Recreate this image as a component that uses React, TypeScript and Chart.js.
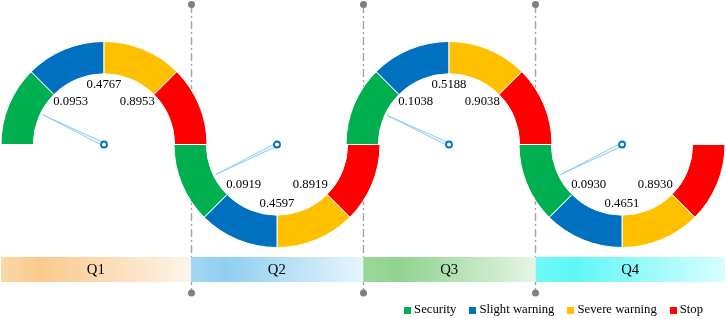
import React, { useEffect, useRef } from 'react';
import { Chart, registerables } from 'chart.js';

Chart.register(...registerables);

// ---------------- data ----------------
const quarters = ['Q1', 'Q2', 'Q3', 'Q4'];
const quarterEdges = [-0.1, 1, 2, 3, 4.1];
const gaugeCenters = [0.5, 1.5, 2.5, 3.5];
const gaugeOrientation = ['top', 'bottom', 'top', 'bottom'];
const statusLevels = ['Security', 'Slight warning', 'Severe warning', 'Stop'];
const levelShares = [1, 1, 1, 1];
const thresholdsQ1 = [0.0953, 0.4767, 0.8953];
const thresholdsQ2 = [0.0919, 0.4597, 0.8919];
const thresholdsQ3 = [0.1038, 0.5188, 0.9038];
const thresholdsQ4 = [0.093, 0.4651, 0.893];
const thresholds = [thresholdsQ1, thresholdsQ2, thresholdsQ3, thresholdsQ4];
const needleValues = [0.144, 0.145, 0.14, 0.145];

// ---------------- styles ----------------
const levelColors = ['#00b050', '#0070c0', '#ffc000', '#ff0000'];
const bandColors = [
  ['#fbd9ab', '#f9c98a', '#fdf4e9'],
  ['#a3d8f4', '#90cff1', '#e6f5fc'],
  ['#9ad89a', '#8fd38f', '#e6f5e6'],
  ['#72f8f8', '#5ef7f7', '#d9fefe'],
];
const SERIF = '"Liberation Serif", "Times New Roman", serif';
const W = 726;
const H = 319;
const R = 103;
const GW = 2 * R + 4;
const GH = R + 13;
const GAUGE_CY = 144.5;

const dividerPlugin = {
  id: 'dividers',
  beforeDatasetsDraw(chart: any) {
    const { ctx } = chart;
    const xs = chart.scales.x;
    ctx.save();
    for (let k = 1; k < quarterEdges.length - 1; k++) {
      const x = Math.round(xs.getPixelForValue(quarterEdges[k])) + 0.5;
      ctx.strokeStyle = '#a6a6a6';
      ctx.lineWidth = 1.4;
      ctx.setLineDash([8, 3, 2, 3]);
      ctx.beginPath();
      ctx.moveTo(x, 5);
      ctx.lineTo(x, 293);
      ctx.stroke();
      ctx.setLineDash([]);
      ctx.fillStyle = '#7f7f7f';
      for (const y of [4.5, 293]) {
        ctx.beginPath();
        ctx.arc(x, y, 3.5, 0, Math.PI * 2);
        ctx.fill();
      }
    }
    ctx.restore();
  },
};

const bandLabelPlugin = {
  id: 'bandLabels',
  afterDatasetsDraw(chart: any) {
    const { ctx } = chart;
    ctx.save();
    ctx.font = `14.7px ${SERIF}`;
    ctx.fillStyle = '#000';
    ctx.textAlign = 'center';
    ctx.textBaseline = 'middle';
    chart.data.datasets.forEach((ds: any, i: number) => {
      const el = chart.getDatasetMeta(i).data[0];
      if (!el) return;
      ctx.fillText(ds.label, (el.x + el.base) / 2, el.y + 0.5);
    });
    ctx.restore();
  },
};

const legendPlugin = {
  id: 'statusLegend',
  afterDraw(chart: any) {
    const { ctx } = chart;
    ctx.save();
    ctx.font = `12.7px ${SERIF}`;
    const box = 7;
    const gap = 3;
    const spacing = 13;
    const widths = statusLevels.map((t) => box + gap + ctx.measureText(t).width);
    const total = widths.reduce((a, b) => a + b, 0) + spacing * (statusLevels.length - 1);
    let x = 703 - total;
    const y = 310;
    statusLevels.forEach((t, k) => {
      ctx.fillStyle = levelColors[k];
      ctx.fillRect(Math.round(x), y - 3, box, box);
      ctx.fillStyle = '#000';
      ctx.textAlign = 'left';
      ctx.textBaseline = 'middle';
      ctx.fillText(t, x + box + gap, y);
      x += widths[k] + spacing;
    });
    ctx.restore();
  },
};

function gaugeOverlay(i: number) {
  return {
    id: 'gaugeOverlay' + i,
    afterDatasetsDraw(chart: any) {
      const arc = chart.getDatasetMeta(0).data[0];
      if (!arc) return;
      const { ctx } = chart;
      const cx = arc.x;
      const cy = arc.y;
      const inner = arc.innerRadius;
      const top = gaugeOrientation[i] === 'top';
      const s = top ? -1 : 1;
      ctx.save();
      // threshold labels
      ctx.font = `12.7px ${SERIF}`;
      ctx.fillStyle = '#000';
      ctx.textAlign = 'center';
      ctx.textBaseline = 'middle';
      const sideR = inner * 0.765;
      const sideA = (52 * Math.PI) / 180;
      const midR = inner * (top ? 0.85 : 0.835);
      const vals = thresholds[i];
      ctx.fillText(vals[0].toFixed(4), cx - sideR * Math.cos(sideA), cy + s * sideR * Math.sin(sideA) * (top ? 1 : 0.95));
      ctx.fillText(vals[1].toFixed(4), cx, cy + s * midR);
      ctx.fillText(vals[2].toFixed(4), cx + sideR * Math.cos(sideA), cy + s * sideR * Math.sin(sideA) * (top ? 1 : 0.95));
      // needle
      const f = needleValues[i];
      const ang = top ? Math.PI + f * Math.PI : Math.PI - f * Math.PI;
      const len = inner * 0.97;
      const tx = cx + len * Math.cos(ang);
      const ty = cy + len * Math.sin(ang);
      const px = -Math.sin(ang) * 1.6;
      const py = Math.cos(ang) * 1.6;
      ctx.beginPath();
      ctx.moveTo(cx + px, cy + py);
      ctx.lineTo(tx, ty);
      ctx.lineTo(cx - px, cy - py);
      ctx.closePath();
      ctx.fillStyle = '#eaf6fd';
      ctx.fill();
      ctx.strokeStyle = '#86c9ee';
      ctx.lineWidth = 0.9;
      ctx.stroke();
      // pivot
      ctx.beginPath();
      ctx.arc(cx, cy, 3, 0, Math.PI * 2);
      ctx.fillStyle = '#fff';
      ctx.fill();
      ctx.strokeStyle = '#0070c0';
      ctx.lineWidth = 1.8;
      ctx.stroke();
      ctx.restore();
    },
  };
}

function makeGauge(canvas: HTMLCanvasElement, i: number) {
  const top = gaugeOrientation[i] === 'top';
  const order = top ? [0, 1, 2, 3] : [3, 2, 1, 0];
  return new Chart(canvas, {
    type: 'doughnut',
    data: {
      labels: order.map((k) => statusLevels[k]),
      datasets: [
        {
          data: order.map((k) => levelShares[k]),
          backgroundColor: order.map((k) => levelColors[k]),
          borderColor: '#ffffff',
          borderWidth: 1,
        },
      ],
    },
    options: {
      responsive: false,
      animation: false,
      rotation: top ? -90 : 90,
      circumference: 180,
      cutout: '68.6%',
      radius: R,
      layout: { padding: 0 },
      events: [],
      plugins: { legend: { display: false }, tooltip: { enabled: false } },
    } as any,
    plugins: [gaugeOverlay(i)],
  });
}

export default function App() {
  const mainRef = useRef<HTMLCanvasElement>(null);
  const g0 = useRef<HTMLCanvasElement>(null);
  const g1 = useRef<HTMLCanvasElement>(null);
  const g2 = useRef<HTMLCanvasElement>(null);
  const g3 = useRef<HTMLCanvasElement>(null);
  const gaugeRefs = [g0, g1, g2, g3];

  useEffect(() => {
    document.body.style.margin = '0';
    const charts: Chart[] = [];
    const main = new Chart(mainRef.current!, {
      type: 'bar',
      data: {
        labels: ['Quarter'],
        datasets: quarters.map((q, i) => ({
          label: q,
          data: [[quarterEdges[i], quarterEdges[i + 1]]] as any,
          grouped: false,
          barPercentage: 1,
          categoryPercentage: 1,
          borderWidth: 0,
          backgroundColor: (c: any) => {
            const chart = c.chart;
            const cols = bandColors[i];
            if (!chart.chartArea) return cols[1];
            const x0 = chart.scales.x.getPixelForValue(quarterEdges[i]);
            const x1 = chart.scales.x.getPixelForValue(quarterEdges[i + 1]);
            const g = chart.ctx.createLinearGradient(x0, 0, x1, 0);
            g.addColorStop(0, cols[0]);
            g.addColorStop(0.2, cols[1]);
            g.addColorStop(1, cols[2]);
            return g;
          },
        })),
      },
      options: {
        indexAxis: 'y',
        responsive: false,
        animation: false,
        events: [],
        layout: { padding: { left: 1, right: 1, top: 257, bottom: 37 } },
        scales: {
          x: { type: 'linear', min: quarterEdges[0], max: quarterEdges[quarterEdges.length - 1], display: false },
          y: { display: false },
        },
        plugins: { legend: { display: false }, tooltip: { enabled: false } },
      } as any,
      plugins: [dividerPlugin, bandLabelPlugin, legendPlugin],
    });
    charts.push(main);
    const xs = main.scales.x;
    gaugeRefs.forEach((ref, i) => {
      const cv = ref.current!;
      const cx = xs.getPixelForValue(gaugeCenters[i]);
      const top = gaugeOrientation[i] === 'top';
      cv.style.left = Math.round(cx - GW / 2) + 'px';
      cv.style.top = (top ? GAUGE_CY - (GH / 2 + R / 2) : GAUGE_CY - (GH / 2 - R / 2)) + 'px';
      charts.push(makeGauge(cv, i));
    });
    return () => charts.forEach((c) => c.destroy());
  }, []);

  const abs: React.CSSProperties = { position: 'absolute' };
  return (
    <div style={{ position: 'fixed', left: 0, top: 0, width: W, height: H, overflow: 'hidden', background: '#fff' }}>
      <canvas ref={mainRef} width={W} height={H} style={{ ...abs, left: 0, top: 0, width: W, height: H }} />
      {gaugeRefs.map((r, i) => (
        <canvas key={i} ref={r} width={GW} height={GH} style={{ ...abs, width: GW, height: GH }} />
      ))}
    </div>
  );
}
